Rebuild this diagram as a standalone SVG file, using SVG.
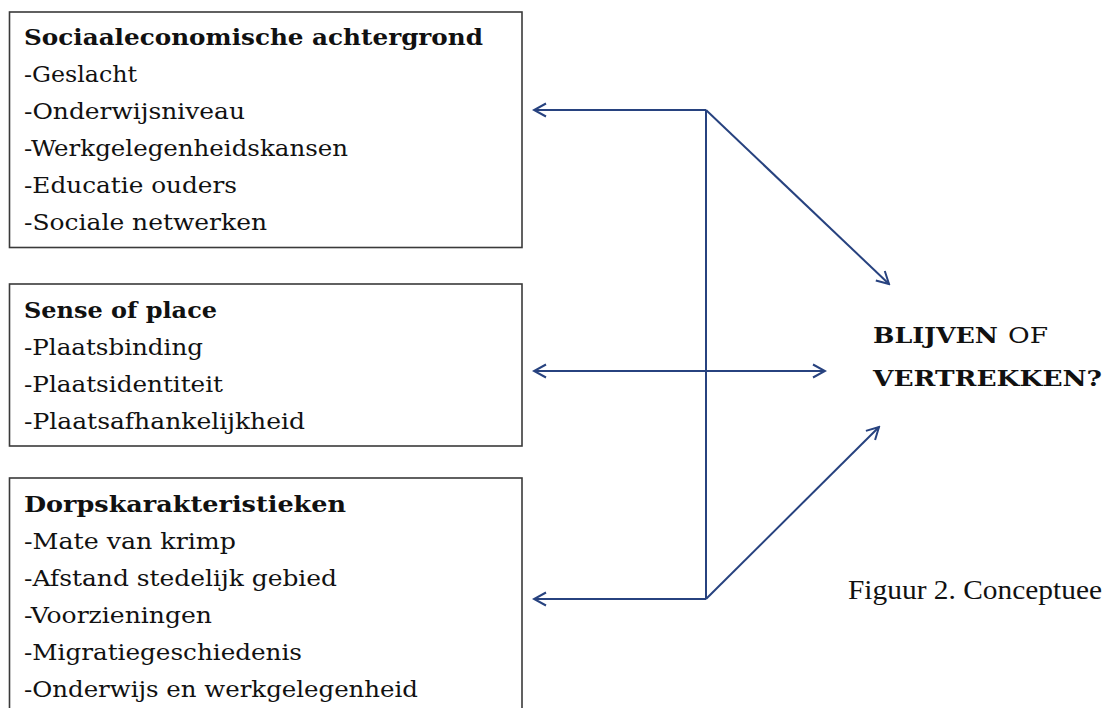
<svg xmlns="http://www.w3.org/2000/svg" width="1109" height="708" viewBox="0 0 1109 708">
<style>
.box{fill:#fff;stroke:#3a3a3a;stroke-width:1.6}
.t{font-family:"DejaVu Serif","Liberation Serif",serif;font-size:23px;fill:#111}
.b{font-weight:bold}
.cap{font-family:"Liberation Serif","DejaVu Serif",serif;font-size:27px;fill:#111}
.c{stroke:#27427f;stroke-width:2;fill:none}
</style>
<defs>
<marker id="ah" viewBox="-14 -8 16 16" refX="0" refY="0" markerWidth="16" markerHeight="16" markerUnits="userSpaceOnUse" orient="auto-start-reverse">
<path d="M-12,-6.5 L0,0 L-12,6.5" fill="none" stroke="#27427f" stroke-width="2"/>
</marker>
</defs>
<rect width="1109" height="708" fill="#fff"/>
<g id="node-socio">
<rect class="box" x="9.5" y="12" width="512.5" height="235.5"/>
<text class="t b" x="24" y="45" textLength="459" lengthAdjust="spacingAndGlyphs">Sociaaleconomische achtergrond</text>
<text class="t" x="24" y="82" textLength="113" lengthAdjust="spacingAndGlyphs">-Geslacht</text>
<text class="t" x="24" y="119" textLength="221" lengthAdjust="spacingAndGlyphs">-Onderwijsniveau</text>
<text class="t" x="24" y="156" textLength="324" lengthAdjust="spacingAndGlyphs">-Werkgelegenheidskansen</text>
<text class="t" x="24" y="193" textLength="213" lengthAdjust="spacingAndGlyphs">-Educatie ouders</text>
<text class="t" x="24" y="230" textLength="243" lengthAdjust="spacingAndGlyphs">-Sociale netwerken</text>
</g>
<g id="node-sense">
<rect class="box" x="9.5" y="284" width="512.5" height="162"/>
<text class="t b" x="24" y="318" textLength="193" lengthAdjust="spacingAndGlyphs">Sense of place</text>
<text class="t" x="24" y="355" textLength="179" lengthAdjust="spacingAndGlyphs">-Plaatsbinding</text>
<text class="t" x="24" y="392" textLength="199" lengthAdjust="spacingAndGlyphs">-Plaatsidentiteit</text>
<text class="t" x="24" y="429" textLength="281" lengthAdjust="spacingAndGlyphs">-Plaatsafhankelijkheid</text>
</g>
<g id="node-dorp">
<rect class="box" x="9.5" y="478" width="512.5" height="250"/>
<text class="t b" x="24" y="512" textLength="322" lengthAdjust="spacingAndGlyphs">Dorpskarakteristieken</text>
<text class="t" x="24" y="549" textLength="212" lengthAdjust="spacingAndGlyphs">-Mate van krimp</text>
<text class="t" x="24" y="586" textLength="313" lengthAdjust="spacingAndGlyphs">-Afstand stedelijk gebied</text>
<text class="t" x="24" y="623" textLength="188" lengthAdjust="spacingAndGlyphs">-Voorzieningen</text>
<text class="t" x="24" y="660" textLength="278" lengthAdjust="spacingAndGlyphs">-Migratiegeschiedenis</text>
<text class="t" x="24" y="697" textLength="394" lengthAdjust="spacingAndGlyphs">-Onderwijs en werkgelegenheid</text>
</g>
<g id="node-outcome">
<text class="t b" x="873" y="343" textLength="125" lengthAdjust="spacingAndGlyphs">BLIJVEN</text>
<text class="t" x="1008" y="343" textLength="40" lengthAdjust="spacingAndGlyphs">OF</text>
<text class="t b" x="873" y="386" textLength="229" lengthAdjust="spacingAndGlyphs">VERTREKKEN?</text>
</g>
<g id="caption">
<text class="cap" x="848" y="599" textLength="254" lengthAdjust="spacingAndGlyphs">Figuur 2. Conceptuee</text>
</g>
<g id="connectors">
<line class="c" x1="706" y1="110" x2="706" y2="599"/>
<line class="c" x1="706" y1="110" x2="534" y2="110" marker-end="url(#ah)"/>
<line class="c" x1="706" y1="599" x2="534" y2="599" marker-end="url(#ah)"/>
<line class="c" x1="534" y1="371" x2="825" y2="371" marker-start="url(#ah)" marker-end="url(#ah)"/>
<line class="c" x1="706" y1="110" x2="889" y2="284" marker-end="url(#ah)"/>
<line class="c" x1="706" y1="599" x2="879" y2="427" marker-end="url(#ah)"/>
</g>
</svg>
